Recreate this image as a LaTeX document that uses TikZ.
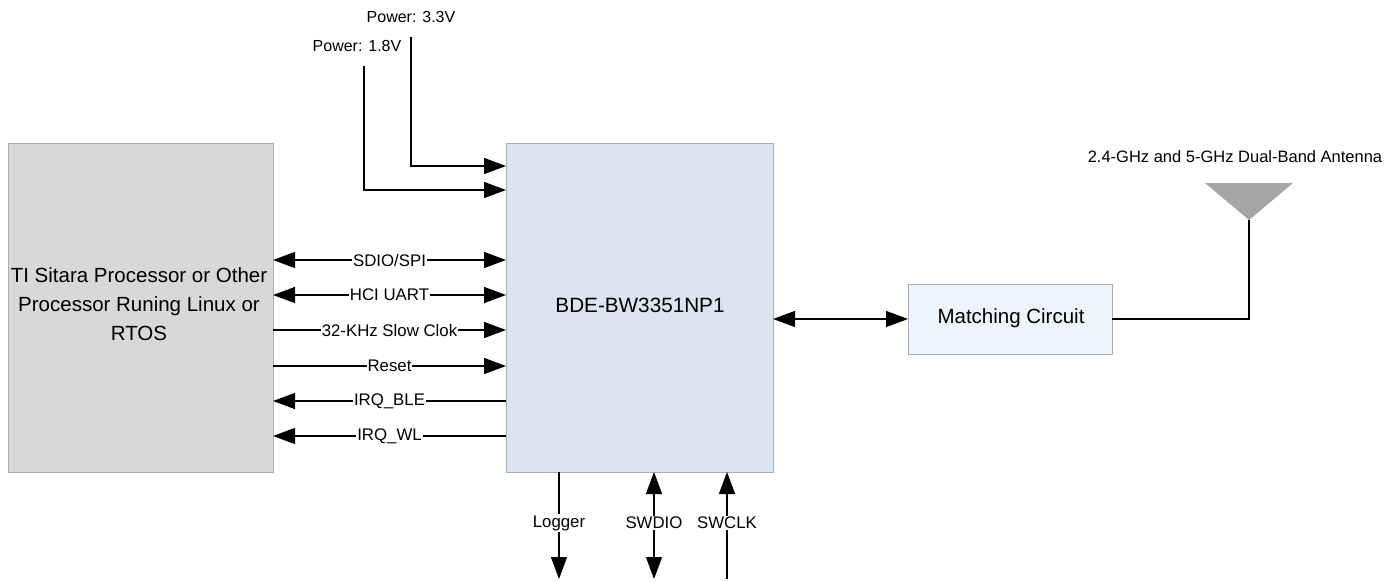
\documentclass[tikz,border=0pt]{standalone}
\usepackage{fontspec}
\setmainfont{Liberation Sans}
\usetikzlibrary{arrows.meta}
\definecolor{procfill}{HTML}{D8D8D8}
\definecolor{procdraw}{HTML}{A5B0B8}
\definecolor{chipfill}{HTML}{DBE4F0}
\definecolor{chipdraw}{HTML}{A5B0BE}
\definecolor{matchfill}{HTML}{EDF5FA}
\definecolor{matchdraw}{HTML}{A5B0B8}
\definecolor{antfill}{HTML}{A6A6A6}
\begin{document}
\begin{tikzpicture}[x=1pt,y=-1pt,
  blk/.style={draw, line width=1.3pt, inner sep=0pt, anchor=north west},
  sig/.style={line width=1.3pt, draw=black},
  tip/.style={-{Triangle[length=22pt,width=16pt]}},
  dtip/.style={{Triangle[length=22pt,width=16pt]}-{Triangle[length=22pt,width=16pt]}},
  lbl/.style={fill=white, inner sep=1pt, font=\fontsize{16.8}{18}\selectfont},
  txt/.style={inner sep=0pt, font=\fontsize{16}{18}\selectfont}]
\useasboundingbox (0,0) rectangle (1400,581);
% blocks
\node[blk, fill=procfill, draw=procdraw, minimum width=265pt, minimum height=329pt] (proc) at (8,143) {};
\node[align=center, font=\fontsize{20.5}{29}\selectfont] (proctext) at (139,304) {TI Sitara Processor or Other\\Processor Runing Linux or\\RTOS};
\node[blk, fill=chipfill, draw=chipdraw, minimum width=267pt, minimum height=329pt] (chip) at (506,143) {};
\node[font=\fontsize{20.7}{24}\selectfont] (chiptext) at (640,305) {BDE-BW3351NP1};
\node[blk, fill=matchfill, draw=matchdraw, minimum width=204pt, minimum height=70pt] (match) at (908,284) {};
\node[font=\fontsize{20.5}{24}\selectfont] (matchtext) at (1011,318) {Matching Circuit};
% antenna
\coordinate (antapex) at (1249,220);
\fill[antfill] (1205,183) -- (1293,183) -- (antapex) -- cycle;
\node[txt, font=\fontsize{16.5}{18}\selectfont] (anttext) at (1235,157) {2.4-GHz and 5-GHz Dual-Band Antenna};
\coordinate (matchR) at (1112,319);
\draw[sig] (antapex) |- (matchR);
\coordinate (chipR) at (773,319);
\coordinate (matchL) at (908,319);
\draw[sig, dtip] (chipR) -- (matchL);
% power
\node[txt] (p33) at (411,17) {Power: 3.3V};
\node[txt] (p18) at (357,46) {Power: 1.8V};
\coordinate (p33top) at (411,37);
\coordinate (p18top) at (364,66);
\coordinate (p33in) at (506,166);
\coordinate (p18in) at (506,190);
\draw[sig, tip] (p33top) |- (p33in);
\draw[sig, tip] (p18top) |- (p18in);
% signal lines
\foreach \y/\t/\s [count=\i] in {260/SDIO\slash SPI/dtip, 295/HCI UART/dtip, 330/32-KHz Slow Clok/tip, 366/Reset/tip}{
  \coordinate (l\i) at (273,\y);
  \coordinate (r\i) at (506,\y);
  \draw[sig, \s] (l\i) -- node[lbl] {\t} (r\i);
}
\foreach \y/\t [count=\i from 5] in {401/IRQ\_BLE, 436/IRQ\_WL}{
  \coordinate (l\i) at (273,\y);
  \coordinate (r\i) at (506,\y);
  \draw[sig, tip] (r\i) -- node[lbl] {\t} (l\i);
}
% bottom
\coordinate (logtop) at (559,472);
\coordinate (logbot) at (559,579);
\coordinate (swdtop) at (654,472);
\coordinate (swdbot) at (654,579);
\coordinate (swctop) at (727,472);
\coordinate (swcbot) at (727,579);
\node[lbl] (logger) at (559,523) {Logger};
\node[lbl] (swdio) at (654,523) {SWDIO};
\node[lbl] (swclk) at (727,523) {SWCLK};
\draw[sig] (logtop) -- (logger.north);
\draw[sig, tip] (logger.south) -- (logbot);
\draw[sig, tip] (swdio.north) -- (swdtop);
\draw[sig, tip] (swdio.south) -- (swdbot);
\draw[sig, tip] (swclk.north) -- (swctop);
\draw[sig] (swclk.south) -- (swcbot);
\end{tikzpicture}
\end{document}
